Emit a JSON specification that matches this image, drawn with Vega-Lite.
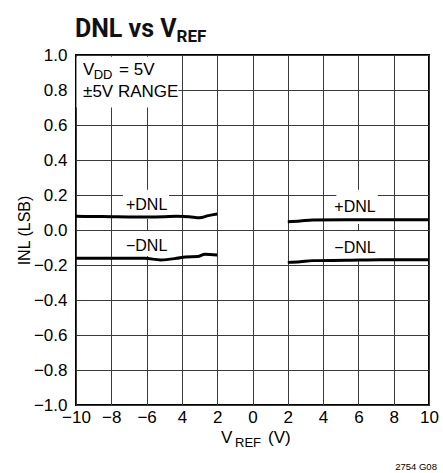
{
  "$schema": "https://vega.github.io/schema/vega-lite/v6.json",
  "width": 353,
  "height": 350,
  "autosize": {"type": "none"},
  "padding": {"left": 76, "top": 55, "right": 14, "bottom": 68},
  "background": "white",
  "config": {
    "font": "Liberation Sans",
    "view": {"stroke": "black", "strokeWidth": 2},
    "axis": {
      "domain": false,
      "ticks": false,
      "grid": true,
      "gridColor": "#3a3a3a",
      "gridWidth": 1,
      "gridOpacity": 1,
      "labelColor": "black",
      "labelFontSize": 17,
      "labelFont": "Liberation Sans",
      "labelOverlap": false,
      "labelFlush": false,
      "labelBound": false,
      "titleColor": "black",
      "titleFont": "Liberation Sans",
      "titleFontSize": 16,
      "titleFontWeight": "normal"
    }
  },
  "datasets": {
    "boxes": [
      {"x": -9.97, "x2": -4.2, "y": 0.70, "y2": 0.99},
      {"x": -7.34, "x2": -4.73, "y": 0.063, "y2": 0.23},
      {"x": -7.34, "x2": -4.73, "y": -0.005, "y2": -0.148},
      {"x": 4.75, "x2": 7.1, "y": 0.034, "y2": 0.23},
      {"x": 4.75, "x2": 7.1, "y": -0.005, "y2": -0.165}
    ],
    "lines": [
      {"s": "p1", "x": -10, "y": 0.078},
      {"s": "p1", "x": -9, "y": 0.077},
      {"s": "p1", "x": -8, "y": 0.076},
      {"s": "p1", "x": -7, "y": 0.075},
      {"s": "p1", "x": -6, "y": 0.075},
      {"s": "p1", "x": -5, "y": 0.076},
      {"s": "p1", "x": -4.3, "y": 0.078},
      {"s": "p1", "x": -3.6, "y": 0.076},
      {"s": "p1", "x": -3.0, "y": 0.07},
      {"s": "p1", "x": -2.5, "y": 0.082},
      {"s": "p1", "x": -2.0, "y": 0.091},
      {"s": "p2", "x": 2.0, "y": 0.047},
      {"s": "p2", "x": 2.7, "y": 0.051},
      {"s": "p2", "x": 3.4, "y": 0.057},
      {"s": "p2", "x": 5.3, "y": 0.059},
      {"s": "p2", "x": 7.5, "y": 0.059},
      {"s": "p2", "x": 10, "y": 0.059},
      {"s": "n1", "x": -10, "y": -0.162},
      {"s": "n1", "x": -8, "y": -0.161},
      {"s": "n1", "x": -6.1, "y": -0.162},
      {"s": "n1", "x": -5.2, "y": -0.171},
      {"s": "n1", "x": -4.3, "y": -0.162},
      {"s": "n1", "x": -3.8, "y": -0.154},
      {"s": "n1", "x": -3.1, "y": -0.152},
      {"s": "n1", "x": -2.7, "y": -0.139},
      {"s": "n1", "x": -2.0, "y": -0.143},
      {"s": "n2", "x": 2.0, "y": -0.185},
      {"s": "n2", "x": 2.7, "y": -0.181},
      {"s": "n2", "x": 3.4, "y": -0.175},
      {"s": "n2", "x": 5.3, "y": -0.173},
      {"s": "n2", "x": 7.3, "y": -0.170},
      {"s": "n2", "x": 10, "y": -0.170}
    ],
    "title_main": [{"x": -10.06, "y": 1.103, "t": "DNL vs V"}],
    "title_sub": [{"x": -4.3, "y": 1.077, "t": "REF"}],
    "text_main": [
      {"x": -9.6, "y": 0.886, "t": "V"},
      {"x": -7.56, "y": 0.886, "t": "= 5V"},
      {"x": -9.6, "y": 0.76, "t": "±5V RANGE"},
      {"x": -1.78, "y": -1.217, "t": "V"},
      {"x": 0.88, "y": -1.217, "t": "(V)"}
    ],
    "text_sub": [
      {"x": -9.0, "y": 0.863, "t": "DD"},
      {"x": -0.99, "y": -1.24, "t": "REF"}
    ],
    "dnl_labels": [
      {"x": -6.0, "y": 0.114, "t": "+DNL"},
      {"x": -6.0, "y": -0.12, "t": "−DNL"},
      {"x": 5.81, "y": 0.103, "t": "+DNL"},
      {"x": 5.81, "y": -0.131, "t": "−DNL"}
    ],
    "code": [{"x": 10.45, "y": -1.371, "t": "2754 G08"}]
  },
  "encoding": {
    "x": {
      "field": "x",
      "type": "quantitative",
      "scale": {"domain": [-10, 10], "nice": false, "zero": false},
      "axis": {
        "title": null,
        "values": [-10, -8, -6, -4, -2, 0, 2, 4, 6, 8, 10],
        "labelPadding": 4,
        "labelExpr": "datum.value == -4 ? '4' : datum.value == -2 ? '2' : format(datum.value, 'd')"
      }
    },
    "y": {
      "field": "y",
      "type": "quantitative",
      "scale": {"domain": [-1, 1], "nice": false, "zero": false},
      "axis": {
        "title": "INL (LSB)",
        "values": [-1, -0.8, -0.6, -0.4, -0.2, 0, 0.2, 0.4, 0.6, 0.8, 1],
        "format": ".1f",
        "labelPadding": 9,
        "titlePadding": 1
      }
    }
  },
  "layer": [
    {
      "data": {"name": "boxes"},
      "mark": {"type": "rect", "fill": "white", "strokeWidth": 0},
      "encoding": {"x2": {"field": "x2"}, "y2": {"field": "y2"}}
    },
    {
      "data": {"name": "lines"},
      "mark": {"type": "line", "color": "black", "strokeWidth": 3, "interpolate": "monotone"},
      "encoding": {"detail": {"field": "s"}}
    },
    {
      "data": {"name": "title_main"},
      "mark": {"type": "text", "align": "left", "baseline": "alphabetic", "font": "Roboto", "fontWeight": "bold", "fontSize": 25, "color": "#111111"},
      "encoding": {"text": {"field": "t"}}
    },
    {
      "data": {"name": "title_sub"},
      "mark": {"type": "text", "align": "left", "baseline": "alphabetic", "font": "Roboto", "fontWeight": "bold", "fontSize": 17, "color": "#111111"},
      "encoding": {"text": {"field": "t"}}
    },
    {
      "data": {"name": "text_main"},
      "mark": {"type": "text", "align": "left", "baseline": "alphabetic", "fontSize": 17, "color": "black"},
      "encoding": {"text": {"field": "t"}}
    },
    {
      "data": {"name": "text_sub"},
      "mark": {"type": "text", "align": "left", "baseline": "alphabetic", "fontSize": 13, "color": "black"},
      "encoding": {"text": {"field": "t"}}
    },
    {
      "data": {"name": "dnl_labels"},
      "mark": {"type": "text", "align": "center", "baseline": "alphabetic", "fontSize": 16, "color": "black"},
      "encoding": {"text": {"field": "t"}}
    },
    {
      "data": {"name": "code"},
      "mark": {"type": "text", "align": "right", "baseline": "alphabetic", "fontSize": 9.5, "color": "black"},
      "encoding": {"text": {"field": "t"}}
    }
  ]
}
